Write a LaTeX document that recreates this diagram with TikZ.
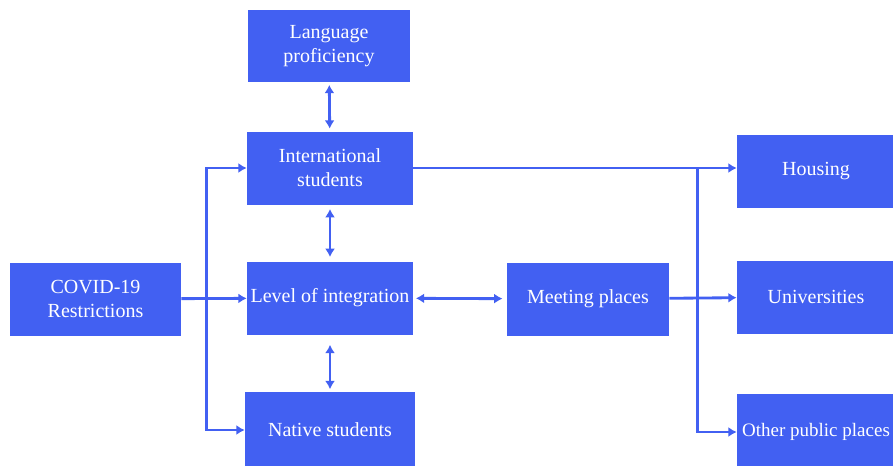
\documentclass[tikz,border=0pt]{standalone}
\usepackage{fontspec}
\setmainfont{Liberation Serif}
\usepackage{tikz}
\usetikzlibrary{arrows.meta, positioning, calc}
\definecolor{boxblue}{RGB}{66,96,242}

\begin{document}
\begin{tikzpicture}[x=0.6pt, y=-0.6pt, >={Latex[length=5pt,width=6pt]},
  box/.style={fill=boxblue, text=white, align=center, inner sep=2pt,
    font=\fontsize{12}{14.5}\selectfont, minimum width=99.6pt, minimum height=43.8pt},
  link/.style={draw=boxblue, line width=1.7pt}]
  \clip (0,0) rectangle (893,465);

  \node[box, minimum width=97.2pt, minimum height=43.2pt] (lang) at (329,46) {Language\\proficiency};
  \node[box] (intl) at (330,168) {International\\students};
  \node[box] (integ) at (330,298) {Level of integration};
  \node[box, minimum width=102pt, minimum height=45.6pt] (native) at (330,430) {Native students};
  \node[box, minimum width=102.6pt] (covid) at (95.5,299) {COVID-19\\Restrictions};
  \node[box, minimum width=97.2pt] (meet) at (588,299) {Meeting places};

  \node[box, minimum width=94.8pt] (housing) at (816,171) {Housing};
  \node[box, minimum width=94.8pt] (univ) at (816,297) {Universities};
  \node[box, minimum width=94.8pt, minimum height=45.6pt, inner sep=1pt,
    font=\fontsize{11.4}{14}\selectfont] (other) at (816,432) {Other public places};

  % vertical links in the middle column
  \draw[link, <->, shorten <=1.5pt, shorten >=1.5pt] (lang) -- (intl);
  \draw[link, <->, shorten <=2.5pt, shorten >=2.5pt] (intl) -- (integ);
  \draw[link, <->, shorten <=6pt, shorten >=1.5pt] (integ) -- (native);

  % restrictions branch
  \draw[link, ->] (covid) -- (integ);
  \coordinate (split) at ($(covid.east)!0.39!(integ.west)$);
  \draw[link, ->] (split) |- (intl.west);
  \draw[link, ->] (split) |- (native.west);

  \draw[link, <->, shorten <=1.5pt, shorten >=2.5pt] (integ) -- (meet);

  % places on the right
  \coordinate (hin) at (intl.east -| housing.west);
  \draw[link, ->] (intl.east) -- (hin);
  \coordinate (fork) at ($(hin)+(-39,0)$);
  \draw[link, ->] (fork) |- (other.west);
  \draw[link, ->] (meet) -- (univ);
\end{tikzpicture}
\end{document}
